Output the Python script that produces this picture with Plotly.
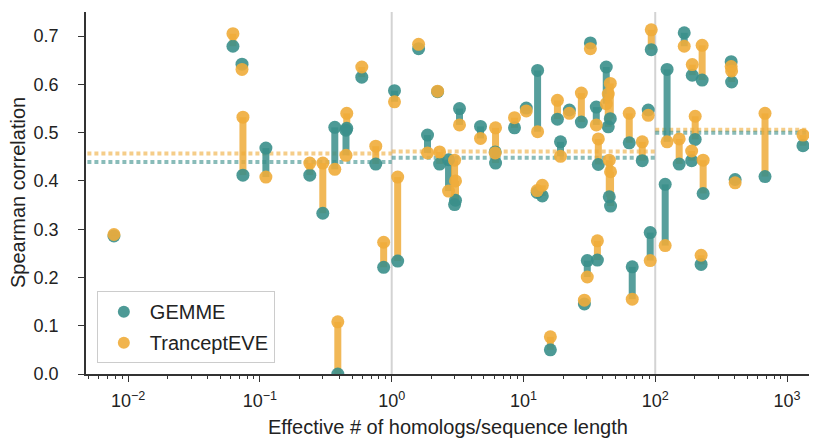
import plotly.graph_objects as go

# Effective # of homologs / sequence length for each protein
neff_ratio = [0.0078, 0.0624, 0.0731, 0.0743, 0.111, 0.239, 0.300, 0.370, 0.390, 0.456,
              0.450, 0.593, 0.757, 0.869, 1.05, 1.11, 1.60, 1.87, 2.23, 2.31,
              2.70, 3.00, 3.05, 3.27, 4.72, 6.14, 6.10, 8.55, 10.5, 12.8,
              12.7, 13.9, 16.0, 18.1, 19.1, 22.3, 27.5, 29.0, 30.5, 32.2,
              35.7, 36.4, 37.0, 42.5, 45.6, 44.0, 44.8, 45.8, 63.5, 66.9,
              79.7, 88.5, 91.6, 93.3, 119, 123, 152, 166, 191, 189,
              201, 223, 227, 231, 377, 380, 404, 681, 1322]
gemme = [0.286, 0.679, 0.642, 0.412, 0.468, 0.412, 0.333, 0.511, 0.000, 0.509,
         0.505, 0.615, 0.435, 0.221, 0.587, 0.234, 0.674, 0.495, 0.585, 0.435,
         0.444, 0.351, 0.360, 0.550, 0.513, 0.437, 0.460, 0.510, 0.551, 0.629,
         0.376, 0.369, 0.050, 0.528, 0.481, 0.547, 0.522, 0.145, 0.235, 0.686,
         0.553, 0.236, 0.434, 0.636, 0.529, 0.512, 0.367, 0.348, 0.479, 0.222,
         0.442, 0.547, 0.293, 0.672, 0.393, 0.631, 0.435, 0.707, 0.619, 0.442,
         0.486, 0.227, 0.609, 0.374, 0.647, 0.605, 0.403, 0.409, 0.473]
tranception_eve = [0.289, 0.705, 0.631, 0.532, 0.408, 0.437, 0.437, 0.424, 0.108, 0.540,
                   0.453, 0.636, 0.472, 0.273, 0.564, 0.408, 0.683, 0.458, 0.586, 0.460,
                   0.379, 0.443, 0.400, 0.516, 0.488, 0.510, 0.458, 0.531, 0.545, 0.502,
                   0.380, 0.391, 0.077, 0.567, 0.451, 0.540, 0.582, 0.153, 0.201, 0.674,
                   0.516, 0.276, 0.487, 0.560, 0.602, 0.580, 0.443, 0.419, 0.540, 0.155,
                   0.481, 0.536, 0.235, 0.713, 0.266, 0.481, 0.487, 0.679, 0.641, 0.462,
                   0.534, 0.246, 0.681, 0.443, 0.637, 0.628, 0.396, 0.540, 0.495]

# Mean correlation per depth bin (bins: <1, 1-100, >100)
bin_edges = [0.001, 1, 100, 10000]
gemme_bin_mean = [0.439, 0.448, 0.500]
tranception_eve_bin_mean = [0.457, 0.461, 0.506]

y_ticks = [0.0, 0.1, 0.2, 0.3, 0.4, 0.5, 0.6, 0.7]
x_ticks = [0.01, 0.1, 1, 10, 100, 1000]
x_tick_labels = ["10<sup>−2</sup>", "10<sup>−1</sup>", "10<sup>0</sup>",
                 "10<sup>1</sup>", "10<sup>2</sup>", "10<sup>3</sup>"]

TEAL = "#3a8f8b"
ORANGE = "#efac3a"
TEAL_LINE = "rgba(58,143,139,0.6)"
ORANGE_LINE = "rgba(239,172,58,0.6)"

fig = go.Figure()

# bin mean dotted lines
for i in range(3):
    fig.add_trace(go.Scatter(x=[bin_edges[i], bin_edges[i + 1]], y=[tranception_eve_bin_mean[i]] * 2,
                             mode="lines", line=dict(color=ORANGE_LINE, width=4, dash="4px,3px"),
                             showlegend=False, hoverinfo="skip"))
    fig.add_trace(go.Scatter(x=[bin_edges[i], bin_edges[i + 1]], y=[gemme_bin_mean[i]] * 2,
                             mode="lines", line=dict(color=TEAL_LINE, width=4, dash="4px,3px"),
                             showlegend=False, hoverinfo="skip"))

# connectors coloured by the better method
tx, ty, ox, oy = [], [], [], []
for x, g, t in zip(neff_ratio, gemme, tranception_eve):
    if g >= t:
        tx += [x, x, None]; ty += [g, t, None]
    else:
        ox += [x, x, None]; oy += [g, t, None]
fig.add_trace(go.Scatter(x=tx, y=ty, mode="lines", line=dict(color=TEAL, width=7),
                         opacity=0.85, showlegend=False, hoverinfo="skip"))
fig.add_trace(go.Scatter(x=ox, y=oy, mode="lines", line=dict(color=ORANGE, width=7),
                         opacity=0.85, showlegend=False, hoverinfo="skip"))

fig.add_trace(go.Scatter(x=neff_ratio, y=gemme, mode="markers", name="GEMME",
                         marker=dict(color=TEAL, size=13, opacity=0.9, line=dict(width=0)),
                         legendgroup="a"))
fig.add_trace(go.Scatter(x=neff_ratio, y=tranception_eve, mode="markers", name="TranceptEVE",
                         marker=dict(color=ORANGE, size=13, opacity=0.9, line=dict(width=0)),
                         legendgroup="b"))

fig.update_layout(
    width=801, height=433,
    margin=dict(l=78, r=0, t=4, b=67),
    paper_bgcolor="white", plot_bgcolor="white",
    font=dict(family="Liberation Sans, Arial, sans-serif", size=18, color="#222"),
    showlegend=True,
    legend=dict(x=0.015, y=0.03, xanchor="left", yanchor="bottom",
                bordercolor="#cccccc", borderwidth=1, bgcolor="rgba(255,255,255,0.8)",
                font=dict(size=20), tracegroupgap=2, itemsizing="constant", itemwidth=42),
    shapes=[
        dict(type="line", xref="x", yref="paper", x0=1, x1=1, y0=0, y1=1,
             line=dict(color="#d3d3d3", width=2), layer="below"),
        dict(type="line", xref="x", yref="paper", x0=100, x1=100, y0=0, y1=1,
             line=dict(color="#d3d3d3", width=2), layer="below"),
    ],
    annotations=[
        dict(text="Effective # of homologs/sequence length", xref="paper", yref="paper",
             x=0.5007, y=-0.146, xanchor="center", yanchor="middle", showarrow=False,
             font=dict(size=20)),
        dict(text="Spearman correlation", xref="paper", yref="paper",
             x=-0.094, y=0.5, xanchor="center", yanchor="middle", showarrow=False,
             textangle=-90, font=dict(size=20)),
    ],
)
fig.update_xaxes(type="log", range=[-2.32, 3.167], automargin=False,
                 tickvals=x_ticks, ticktext=x_tick_labels,
                 ticks="outside", ticklen=6, tickwidth=1.3, tickcolor="#333",
                 showline=True, linecolor="#333", linewidth=1.5, showgrid=False, zeroline=False,
                 minor=dict(ticks="outside", ticklen=3, tickwidth=1, tickcolor="#333",
                            tickvals=[m * 10 ** e for e in range(-3, 4) for m in range(2, 10)],
                            showgrid=False),
                 ticklabelstandoff=4,
                 tickfont=dict(size=18))
fig.update_yaxes(range=[0, 0.75], tickvals=y_ticks, tickformat=".1f", automargin=False,
                 ticks="outside", ticklen=6, tickwidth=1.3, tickcolor="#333",
                 showline=True, linecolor="#333", linewidth=1.5, showgrid=False, zeroline=False,
                 ticklabelstandoff=16,
                 tickfont=dict(size=18))

fig.write_html("out.html")
